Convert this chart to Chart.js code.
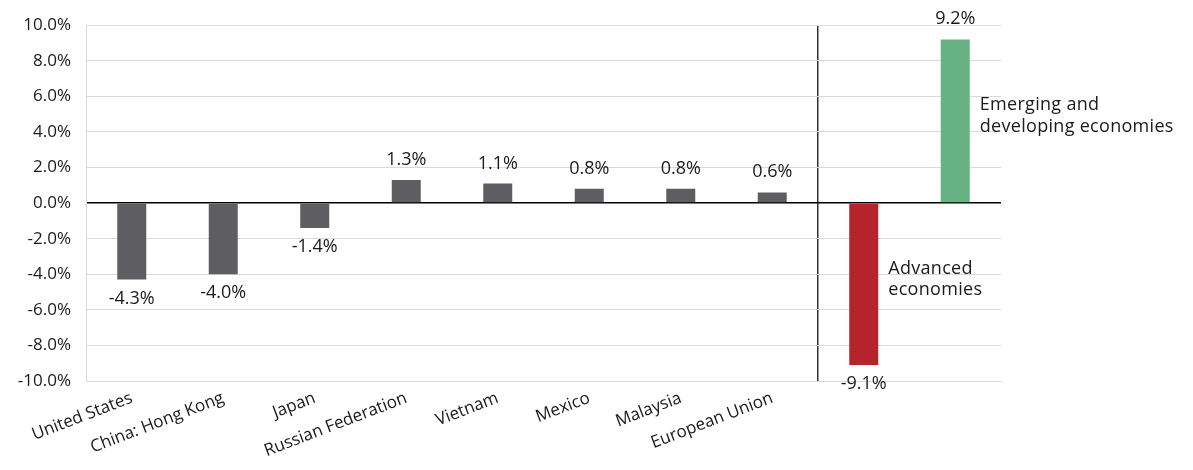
<!DOCTYPE html>
<html>
<head>
<meta charset="utf-8">
<script src="https://cdn.jsdelivr.net/npm/chart.js@4/dist/chart.umd.min.js"></script>
<style>
  html, body { margin: 0; padding: 0; background: #fff; }
  #wrap { width: 1193px; height: 470px; }
</style>
</head>
<body>
<div id="wrap"><canvas id="c" width="1193" height="470"></canvas></div>
<script>
// Change by economy, in percent
const categories = ['United States', 'China: Hong Kong', 'Japan', 'Russian Federation', 'Vietnam', 'Mexico', 'Malaysia', 'European Union', '', ''];
const values = [-4.3, -4.0, -1.4, 1.3, 1.1, 0.8, 0.8, 0.6, -9.1, 9.2];
const groupNotes = [null, null, null, null, null, null, null, null, ['Advanced', 'economies'], ['Emerging and', 'developing economies']];
const noteLevels = [null, null, null, null, null, null, null, null, -3.97, 5.22];
const yTicks = [-10, -8, -6, -4, -2, 0, 2, 4, 6, 8, 10];

const GREY = '#5e5d62', RED = '#b5242a', GREEN = '#66b283';
const barColors = values.map((v, i) => i === 8 ? RED : (i === 9 ? GREEN : GREY));
const FONT = '"Open Sans", Lato, sans-serif';
const TEXT = '#1a1a1a';

const valueLabels = {
  id: 'valueLabels',
  afterDatasetsDraw(chart) {
    const ctx = chart.ctx;
    const meta = chart.getDatasetMeta(0);
    const y = chart.scales.y;
    ctx.save();
    ctx.fillStyle = TEXT;
    ctx.textBaseline = 'alphabetic';
    meta.data.forEach((bar, i) => {
      const v = values[i];
      const txt = v.toFixed(1) + '%';
      ctx.font = '18px ' + FONT;
      ctx.letterSpacing = '0px';
      ctx.textAlign = 'center';
      ctx.fillText(txt, bar.x, v >= 0 ? bar.y - 15 : bar.y + 24);
      const note = groupNotes[i];
      if (note) {
        ctx.letterSpacing = '0.3px';
        ctx.textAlign = 'left';
        const left = bar.x + bar.width / 2 + 10;
        const base = y.getPixelForValue(noteLevels[i]);
        note.forEach((line, k) => ctx.fillText(line, left, base + k * 21.5));
      }
    });
    ctx.restore();
  }
};

new Chart(document.getElementById('c'), {
  type: 'bar',
  data: {
    labels: categories,
    datasets: [{
      data: values,
      backgroundColor: barColors,
      borderWidth: 0,
      barPercentage: 1,
      categoryPercentage: 0.317
    }]
  },
  options: {
    responsive: false,
    animation: false,
    devicePixelRatio: 1,
    layout: { padding: { top: 22, right: 192, left: 0, bottom: 0 } },
    plugins: { legend: { display: false }, tooltip: { enabled: false } },
    scales: {
      x: {
        offset: true,
        grid: {
          offset: true,
          drawTicks: false,
          color: c => (c.index === 8 ? '#333333' : (c.index === 0 || c.index === 10 ? '#d9d9d9' : 'rgba(0,0,0,0)')),
          lineWidth: c => (c.index === 8 ? 1.5 : 1)
        },
        border: { display: true, color: '#d9d9d9', width: 1 },
        ticks: {
          color: TEXT,
          font: { family: FONT, size: 17 },
          minRotation: 21,
          maxRotation: 21,
          autoSkip: false,
          padding: 7
        },
        afterFit: s => { s.height = 89; }
      },
      y: {
        min: -10,
        max: 10,
        afterBuildTicks: s => { s.ticks = yTicks.map(v => ({ value: v })); },
        grid: {
          drawTicks: false,
          color: c => (c.tick && c.tick.value === 0 ? '#000000' : '#d9d9d9'),
          lineWidth: c => (c.tick && c.tick.value === 0 ? 1.5 : 1)
        },
        border: { display: true, color: '#d9d9d9', width: 1 },
        ticks: {
          color: TEXT,
          font: { family: FONT, size: 17 },
          padding: 15,
          callback: v => v.toFixed(1) + '%'
        },
        afterFit: s => { s.width = 86; }
      }
    }
  },
  plugins: [valueLabels]
});
</script>
</body>
</html>
